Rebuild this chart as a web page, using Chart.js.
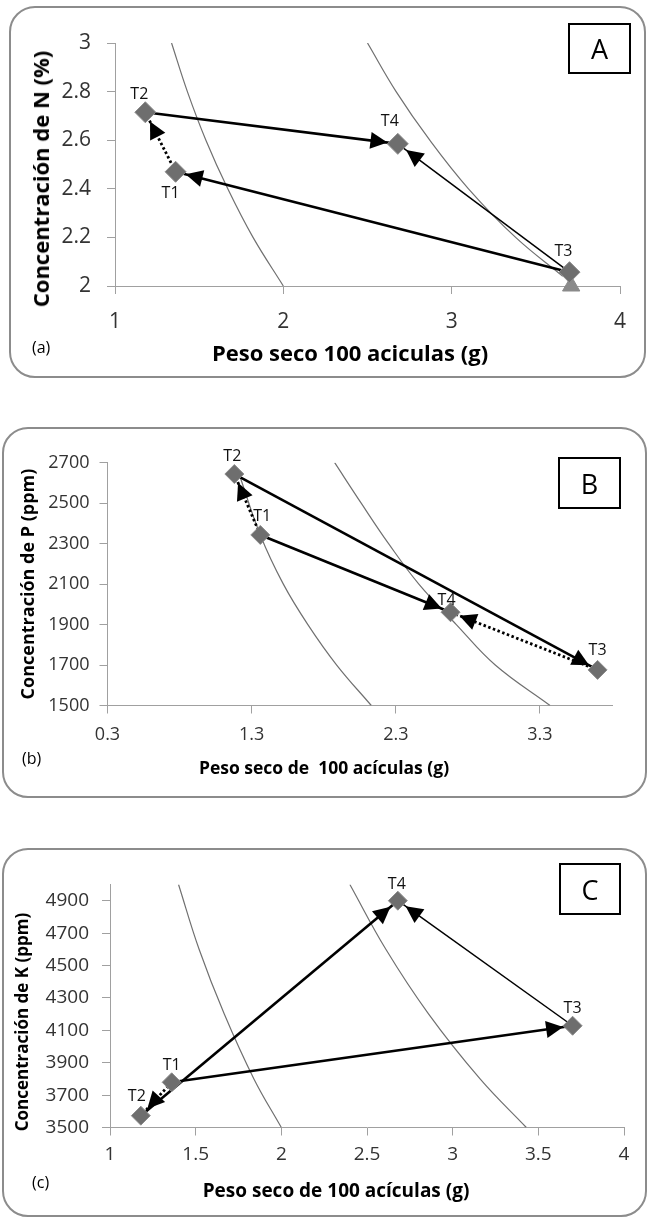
<!DOCTYPE html>
<html>
<head>
<meta charset="utf-8">
<script src="https://cdn.jsdelivr.net/npm/chart.js@4.4.0/dist/chart.umd.min.js"></script>
<style>
  body { margin: 0; background: #fff; width: 648px; height: 1218px; position: relative; overflow: hidden; font-family: 'Open Sans', sans-serif; }
  .frame { position: absolute; border: 2px solid #8c8c8c; border-radius: 26px; box-sizing: border-box; }
  .box { position: absolute; border: 2px solid #000; box-sizing: border-box; display: flex; align-items: center; justify-content: center; font-size: 27px; color: #000; }
  .tag { position: absolute; font-size: 16px; line-height: 20px; color: #000; }
  .ttl { position: absolute; font-weight: bold; color: #000; white-space: pre; line-height: 1; }
  canvas { position: absolute; left: 0; }
</style>
</head>
<body>
<div class="frame" style="left:9px;top:6px;width:637px;height:372px"></div>
<div class="frame" style="left:2px;top:427px;width:645px;height:371px"></div>
<div class="frame" style="left:2px;top:848px;width:645px;height:369px"></div>

<canvas id="chartA" width="648" height="380" style="top:0px"></canvas>
<canvas id="chartB" width="648" height="380" style="top:420px"></canvas>
<canvas id="chartC" width="648" height="368" style="top:850px"></canvas>

<div class="box" style="left:568px;top:23px;width:63px;height:51px">A</div>
<div class="box" style="left:558px;top:457px;width:63px;height:52px">B</div>
<div class="box" style="left:559px;top:863px;width:62px;height:52px">C</div>

<div class="tag" style="left:32px;top:337px">(a)</div>
<div class="tag" style="left:22px;top:748px">(b)</div>
<div class="tag" style="left:32px;top:1172px">(c)</div>

<div class="ttl" id="xtA" style="font-size:22px">Peso seco 100 aciculas (g)</div>
<div class="ttl" id="xtB" style="font-size:17.5px">Peso seco de  100 acículas (g)</div>
<div class="ttl" id="xtC" style="font-size:19px">Peso seco de 100 acículas (g)</div>
<div class="ttl" id="ytA" style="font-size:22px">Concentración de N (%)</div>
<div class="ttl" id="ytB" style="font-size:18px">Concentración de P (ppm)</div>
<div class="ttl" id="ytC" style="font-size:17px">Concentración de K (ppm)</div>

<script>
// tratamientos y peso seco de 100 acículas (g)
const tratamientos = ['T1', 'T2', 'T3', 'T4'];
const peso = [1.36, 1.18, 3.70, 2.68];

// concentraciones
const concN = [2.47, 2.715, 2.057, 2.585];
const concP = [2343, 2644, 1676, 1961];
const concK = [3779, 3573, 4128, 4900];

// punto triangulo en (a)
const trianguloX = [3.71];
const trianguloY = [2.0];

// curvas de referencia (isolineas)
const curvaN1X = [1.336, 1.43, 1.54, 1.67, 1.82, 2.0];
const curvaN1Y = [3.0, 2.8, 2.6, 2.4, 2.2, 2.0];
const curvaN2X = [2.5, 2.67, 2.87, 3.1, 3.38, 3.66];
const curvaN2Y = [3.0, 2.8, 2.6, 2.4, 2.2, 2.04];

const curvaP1X = [1.21, 1.36, 1.52, 1.69, 1.89, 2.13];
const curvaP1Y = [2650, 2343, 2100, 1900, 1700, 1500];
const curvaP2X = [1.876, 2.06, 2.25, 2.46, 2.72, 2.99, 3.37];
const curvaP2Y = [2700, 2500, 2300, 2100, 1900, 1700, 1500];

const curvaK1X = [1.40, 1.52, 1.667, 1.84, 2.0];
const curvaK1Y = [5000, 4600, 4200, 3800, 3500];
const curvaK2X = [2.40, 2.61, 2.86, 3.16, 3.43];
const curvaK2Y = [5000, 4600, 4200, 3800, 3500];

// flechas: [desde, hasta, estilo]
const flechasN = [[0, 1, 'dot'], [1, 3, 'solid'], [2, 0, 'solid'], [2, 3, 'thin']];
const flechasP = [[0, 1, 'dot'], [1, 2, 'solid'], [0, 3, 'solid'], [2, 3, 'dot']];
const flechasK = [[0, 1, 'dot'], [1, 3, 'solid'], [0, 2, 'solid'], [2, 3, 'thin']];

// ticks
const ticksNX = [1, 2, 3, 4];
const ticksNY = [2, 2.2, 2.4, 2.6, 2.8, 3];
const ticksPX = [0.3, 1.3, 2.3, 3.3];
const ticksPY = [1500, 1700, 1900, 2100, 2300, 2500, 2700];
const ticksKX = [1, 1.5, 2, 2.5, 3, 3.5, 4];
const ticksKY = [3500, 3700, 3900, 4100, 4300, 4500, 4700, 4900];

const FONT = "'Open Sans', sans-serif";
const lineStyles = {
  solid: { borderWidth: 2.6, borderDash: [] },
  dot: { borderWidth: 2.8, borderDash: [2.5, 2.5] },
  thin: { borderWidth: 1.5, borderDash: [] }
};

function pts(xs, ys) {
  return xs.map((x, i) => ({ x: x, y: ys[i] }));
}

const arrowPlugin = {
  id: 'flechas',
  afterDatasetsDraw(chart) {
    const ctx = chart.ctx;
    chart.data.datasets.forEach((ds, i) => {
      if (!ds.flecha) return;
      const el = chart.getDatasetMeta(i).data;
      const a = el[0], b = el[1];
      const dx = b.x - a.x, dy = b.y - a.y;
      const len = Math.hypot(dx, dy);
      const ux = dx / len, uy = dy / len;
      const gap = ds.flecha.gap, L = 17, W = 8.5;
      const tx = b.x - ux * gap, ty = b.y - uy * gap;
      ctx.save();
      ctx.fillStyle = '#000';
      ctx.beginPath();
      ctx.moveTo(tx, ty);
      ctx.lineTo(tx - ux * L - uy * W, ty - uy * L + ux * W);
      ctx.lineTo(tx - ux * L + uy * W, ty - uy * L - ux * W);
      ctx.closePath();
      ctx.fill();
      ctx.restore();
    });
  }
};

const labelPlugin = {
  id: 'etiquetas',
  afterDraw(chart) {
    const ctx = chart.ctx;
    const offs = chart.options.plugins.etiquetas.offsets;
    chart.data.datasets.forEach((ds, i) => {
      if (!ds.etiquetas) return;
      const el = chart.getDatasetMeta(i).data;
      ctx.save();
      ctx.font = '16px ' + FONT;
      ctx.fillStyle = '#111';
      ctx.textAlign = 'center';
      ctx.textBaseline = 'middle';
      el.forEach((p, j) => {
        ctx.fillText(ds.etiquetas[j], p.x + offs[j][0], p.y + offs[j][1]);
      });
      ctx.restore();
    });
  }
};

function makeChart(id, cfg) {
  const datasets = [];
  datasets.push({
    label: 'tratamientos',
    data: pts(peso, cfg.conc),
    etiquetas: tratamientos,
    pointStyle: 'rectRot',
    pointRadius: cfg.radius,
    backgroundColor: '#6e6e6e',
    borderColor: '#8c8c8c',
    borderWidth: 1,
    showLine: false,
    clip: false,
    order: 0
  });
  if (cfg.tri) {
    datasets.push({
      label: 'triangulo',
      data: pts(cfg.tri[0], cfg.tri[1]),
      pointStyle: 'triangle',
      pointRadius: 10,
      backgroundColor: '#8a8a8a',
      borderColor: '#8a8a8a',
      showLine: false,
      clip: false,
      order: 1
    });
  }
  cfg.flechas.forEach(f => {
    const st = lineStyles[f[2]];
    datasets.push({
      label: 'flecha',
      data: [{ x: peso[f[0]], y: cfg.conc[f[0]] }, { x: peso[f[1]], y: cfg.conc[f[1]] }],
      flecha: { gap: cfg.radius * 0.85 + 1.5 },
      showLine: true,
      borderColor: '#000',
      borderWidth: st.borderWidth,
      borderDash: st.borderDash,
      pointRadius: 0,
      clip: false,
      order: 2
    });
  });
  cfg.curvas.forEach(c => {
    datasets.push({
      label: 'curva',
      data: pts(c[0], c[1]),
      showLine: true,
      borderColor: '#707070',
      borderWidth: 1.2,
      tension: 0.4,
      pointRadius: 0,
      order: 3
    });
  });

  const a = cfg.area;
  const axis = (min, max, ticks, pad, fit) => ({
    type: 'linear',
    min: min,
    max: max,
    afterBuildTicks: s => { s.ticks = ticks.map(v => ({ value: v })); },
    afterFit: fit,
    grid: { drawOnChartArea: false, drawTicks: true, tickLength: 8, color: '#a0a0a0' },
    border: { color: '#a0a0a0', width: 1 },
    ticks: {
      font: { family: FONT, size: cfg.fs },
      color: '#333333',
      padding: pad,
      autoSkip: false,
      maxRotation: 0,
      callback: v => String(v)
    }
  });

  return new Chart(document.getElementById(id), {
    type: 'scatter',
    data: { datasets: datasets },
    options: {
      responsive: false,
      animation: false,
      devicePixelRatio: 1,
      layout: { padding: { left: 0, top: a.t, right: 648 - a.r, bottom: 0 } },
      plugins: {
        legend: { display: false },
        tooltip: { enabled: false },
        etiquetas: { offsets: cfg.offsets }
      },
      scales: {
        x: axis(cfg.x[0], cfg.x[1], cfg.xt, cfg.padX, s => { s.height = cfg.h - a.b; }),
        y: axis(cfg.y[0], cfg.y[1], cfg.yt, cfg.padY, s => { s.width = a.l; })
      }
    },
    plugins: [arrowPlugin, labelPlugin]
  });
}

makeChart('chartA', {
  conc: concN, tri: [trianguloX, trianguloY], radius: 10.5,
  flechas: flechasN,
  curvas: [[curvaN1X, curvaN1Y], [curvaN2X, curvaN2Y]],
  x: [1, 4], y: [2, 3], xt: ticksNX, yt: ticksNY,
  area: { l: 115, r: 620, t: 43, b: 286 }, h: 380,
  fs: 21, padX: 15, padY: 16,
  offsets: [[-5, 22], [-6, -18], [-6, -21], [-8, -22]]
});

makeChart('chartB', {
  conc: concP, radius: 9.5,
  flechas: flechasP,
  curvas: [[curvaP1X, curvaP1Y], [curvaP2X, curvaP2Y]],
  x: [0.3, 3.8], y: [1500, 2700], xt: ticksPX, yt: ticksPY,
  area: { l: 107.5, r: 612, t: 42.7, b: 285.5 }, h: 380,
  fs: 18, padX: 11, padY: 10,
  offsets: [[2, -18], [-2, -18], [0, -19], [-4, -12]]
});

makeChart('chartC', {
  conc: concK, radius: 9.5,
  flechas: flechasK,
  curvas: [[curvaK1X, curvaK1Y], [curvaK2X, curvaK2Y]],
  x: [1, 4], y: [3500, 5000], xt: ticksKX, yt: ticksKY,
  area: { l: 110, r: 624, t: 34.5, b: 277.5 }, h: 368,
  fs: 19, padX: 8, padY: 13,
  offsets: [[0, -17], [-4, -19], [0, -17], [-1, -16]]
});

// titulos de ejes (centrados como en la figura original)
function place(id, cx, cy, rot) {
  const el = document.getElementById(id);
  el.style.left = cx + 'px';
  el.style.top = cy + 'px';
  el.style.transform = 'translate(-50%, -50%)' + (rot ? ' rotate(-90deg)' : '');
}
place('xtA', 350, 352, false);
place('xtB', 324, 768, false);
place('xtC', 336, 1190, false);
place('ytA', 40, 179, true);
place('ytB', 27, 584, true);
place('ytC', 21, 1022, true);
</script>
</body>
</html>
